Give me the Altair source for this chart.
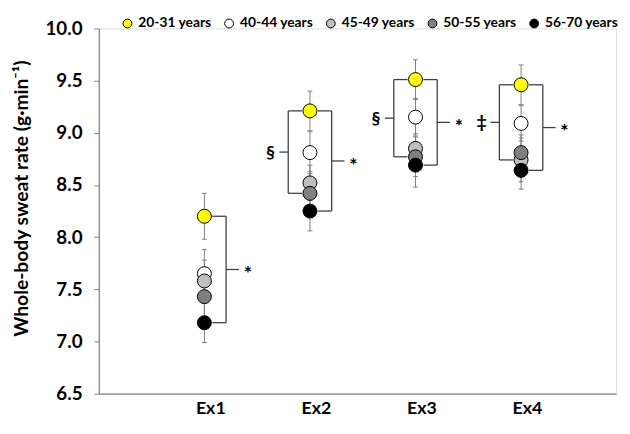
import altair as alt
import pandas as pd

# ---------------- data ----------------
exercises = ["Ex1", "Ex2", "Ex3", "Ex4"]
ex_pos = [1, 2, 3, 4]
groups = ["20-31 years", "40-44 years", "45-49 years", "50-55 years", "56-70 years"]
colors = ["#FFFF00", "#FFFFFF", "#BFBFBF", "#808080", "#000000"]

mean_2031 = [8.20, 9.21, 9.51, 9.46]
mean_4044 = [7.65, 8.81, 9.15, 9.09]
mean_4549 = [7.58, 8.52, 8.85, 8.74]
mean_5055 = [7.43, 8.42, 8.77, 8.81]
mean_5670 = [7.18, 8.25, 8.69, 8.64]

sd_2031 = [0.22, 0.19, 0.19, 0.19]
sd_4044 = [0.23, 0.20, 0.18, 0.17]
sd_4549 = [0.20, 0.17, 0.14, 0.21]
sd_5055 = [0.20, 0.21, 0.19, 0.17]
sd_5670 = [0.19, 0.19, 0.21, 0.18]

# significance brackets
right_sig = ["*", "*", "*", "*"]            # 20-31 vs 56-70
left_sig = ["", "§", "§", "‡"]             # 20-31 vs group below
left_bottom_group = [None, "50-55 years", "50-55 years", "45-49 years"]

y_ticks = [6.5, 7.0, 7.5, 8.0, 8.5, 9.0, 9.5, 10.0]
y_title = "Whole-body sweat rate (g·min⁻¹)"

FONT = "Lato"

# ---------------- tables ----------------
means = [mean_2031, mean_4044, mean_4549, mean_5055, mean_5670]
sds = [sd_2031, sd_4044, sd_4549, sd_5055, sd_5670]
rows = []
for gi, g in enumerate(groups):
    for ei, p in enumerate(ex_pos):
        m, s = means[gi][ei], sds[gi][ei]
        rows.append({"pos": p, "group": g, "mean": m, "lo": m - s, "hi": m + s, "gi": gi})
df = pd.DataFrame(rows)

right_rows, left_rows = [], []
for ei, p in enumerate(ex_pos):
    top = mean_2031[ei]
    bot = mean_5670[ei]
    right_rows.append({"pos": p, "top": top, "bot": bot, "mid": (top + bot) / 2, "sig": right_sig[ei]})
    if left_bottom_group[ei] is not None:
        b = means[groups.index(left_bottom_group[ei])][ei]
        left_rows.append({"pos": p, "top": top, "bot": b, "mid": (top + b) / 2, "sig": left_sig[ei]})
rdf = pd.DataFrame(right_rows)
ldf = pd.DataFrame(left_rows)

# ---------------- scales / axes ----------------
label_expr = "[" + ",".join("'%s'" % e for e in exercises) + "][datum.value - 1]"
xscale = alt.Scale(domain=[0, 4.9], nice=False, zero=False)
yscale = alt.Scale(domain=[6.5, 10.0], nice=False, zero=False)

x_axis = alt.Axis(values=ex_pos, labelExpr=label_expr, title=None, grid=False, ticks=False,
                  domainColor="#808080", domainWidth=1.2, labelFont=FONT, labelFontSize=18,
                  labelFontWeight="bold", labelColor="black", labelPadding=6, labelOffset=6)
y_axis = alt.Axis(values=y_ticks, format=".1f", title=y_title, grid=False, tickSize=5,
                  tickColor="#808080", domainColor="#808080", domainWidth=1.2,
                  labelFont=FONT, labelFontSize=19, labelFontWeight="bold", labelColor="black",
                  labelPadding=12, titleFont=FONT, titleFontSize=19.5, titleFontWeight="bold",
                  titleColor="black", titleAngle=270, titleX=-72, titleY=172,
                  titleAlign="center", titleBaseline="alphabetic")


def X():
    return alt.X("pos:Q", scale=xscale, axis=x_axis)


def Y(field):
    return alt.Y(field, scale=yscale, axis=y_axis)


base = alt.Chart(df)

err_line = base.mark_rule(color="#808080", strokeWidth=1).encode(
    x=X(), y=Y("lo:Q"), y2="hi:Q")
cap_lo = base.mark_tick(orient="horizontal", size=5, thickness=1, color="#808080", opacity=1).encode(
    x=X(), y=Y("lo:Q"))
cap_hi = base.mark_tick(orient="horizontal", size=5, thickness=1, color="#808080", opacity=1).encode(
    x=X(), y=Y("hi:Q"))

points = base.mark_point(shape="circle", filled=True, size=200, stroke="black", strokeWidth=1,
                         opacity=1, fillOpacity=1).encode(
    x=X(),
    y=Y("mean:Q"),
    fill=alt.Fill("group:N", scale=alt.Scale(domain=groups, range=colors),
                  legend=alt.Legend(orient="none", legendX=22, legendY=-12, direction="horizontal",
                                    title=None, symbolType="circle", symbolSize=80,
                                    symbolStrokeColor="black", symbolStrokeWidth=1,
                                    symbolOpacity=1, labelFont=FONT, labelFontSize=14,
                                    labelFontWeight="bold", labelColor="black",
                                    columnPadding=10, labelOffset=4, padding=0)),
    order=alt.Order("gi:Q"),
)

BR = "#404040"
BW = 1.3


def bracket(data, side):
    s = 1 if side == "right" else -1
    edge, bx, tip, txt = 8 * s, 22 * s, (35 if s > 0 else -31), (44 if s > 0 else -40)
    c = alt.Chart(data)
    vert = c.mark_rule(color=BR, strokeWidth=BW, xOffset=bx).encode(x=X(), y=Y("top:Q"), y2="bot:Q")
    stub_t = c.mark_rule(color=BR, strokeWidth=BW, xOffset=edge, x2Offset=bx).encode(
        x=X(), x2="pos:Q", y=Y("top:Q"))
    stub_b = c.mark_rule(color=BR, strokeWidth=BW, xOffset=edge, x2Offset=bx).encode(
        x=X(), x2="pos:Q", y=Y("bot:Q"))
    tipm = c.mark_rule(color=BR, strokeWidth=BW, xOffset=bx, x2Offset=tip).encode(
        x=X(), x2="pos:Q", y=Y("mid:Q"))
    dy = 5 if side == "right" else 1
    size = 20 if side == "right" else 18
    text = c.mark_text(dx=txt, dy=dy, font=FONT, fontSize=size, fontWeight="bold", color="black",
                       align="center", baseline="middle").encode(x=X(), y=Y("mid:Q"), text="sig:N")
    return [vert, stub_t, stub_b, tipm, text]


chart = alt.layer(
    err_line, cap_lo, cap_hi,
    *bracket(rdf, "right"), *bracket(ldf, "left"),
    points,
).properties(
    width=524, height=370,
    padding={"left": 92, "top": 18, "right": 6, "bottom": 27},
    autosize=alt.AutoSizeParams(type="none"),
).configure_view(stroke=None).configure(background="white")

chart.save("out.html", embed_options={"renderer": "svg", "actions": False})
